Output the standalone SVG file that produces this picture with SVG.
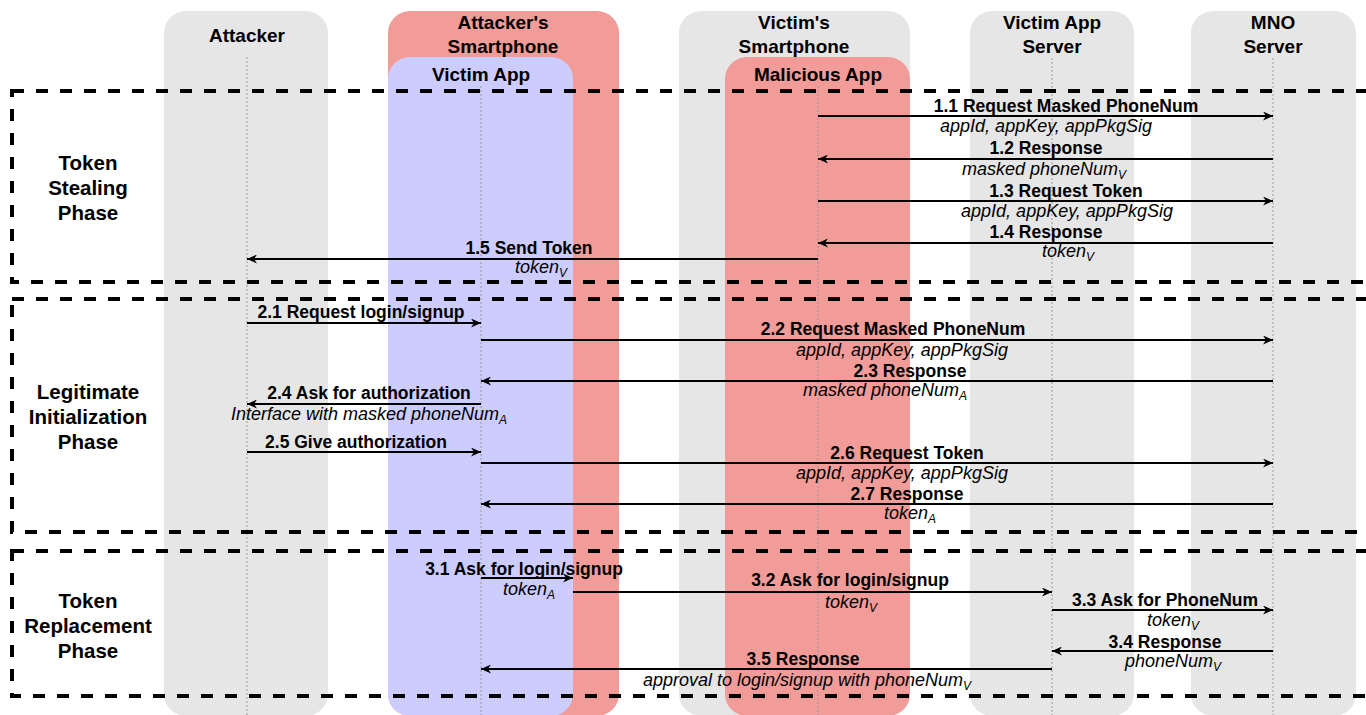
<svg xmlns="http://www.w3.org/2000/svg" width="1366" height="715" viewBox="0 0 1366 715">
<defs>
<marker id="ah" markerUnits="userSpaceOnUse" markerWidth="11" markerHeight="9" refX="10" refY="4.5" orient="auto" viewBox="0 0 11 9"><path d="M0,0 L10,4.5 L0,9 L3,4.5 Z" fill="#000"/></marker>
<style>
.lane{fill:#e6e6e6}
.red{fill:#f19c99}
.blue{fill:#ccccff}
text{font-family:"Liberation Sans",Arial,Helvetica,sans-serif;fill:#000;text-anchor:middle}
.hd{font-weight:bold;font-size:19px}
.ph{font-weight:bold;font-size:20.5px}
.lb{font-weight:bold;font-size:17.5px}
.it{font-style:italic;font-size:18px}
.sub{font-size:12px}
.life{stroke:#999;stroke-width:1;stroke-dasharray:2 2;fill:none}
.msg{stroke:#000;stroke-width:2;fill:none;marker-end:url(#ah)}
.phase{fill:none;stroke:#000;stroke-width:4;stroke-dasharray:12 12}
</style>
</defs>
<rect width="1366" height="715" fill="#fff"/>

<g id="attacker">
<rect class="lane" x="164" y="11" width="164" height="705" rx="22"/>
<text class="hd" x="247" y="42">Attacker</text>
<line class="life" x1="247" y1="57" x2="247" y2="715"/>
</g>

<g id="attackers-smartphone">
<rect class="red" x="388" y="11" width="231" height="705" rx="22"/>
<text class="hd" x="503" y="29">Attacker's</text>
<text class="hd" x="503" y="53">Smartphone</text>
</g>

<g id="victim-app">
<rect class="blue" x="388" y="57" width="185" height="659" rx="22"/>
<text class="hd" x="481" y="81">Victim App</text>
<line class="life" x1="481" y1="86" x2="481" y2="715"/>
</g>

<g id="victims-smartphone">
<rect class="lane" x="679" y="11" width="231" height="705" rx="22"/>
<text class="hd" x="794" y="29">Victim's</text>
<text class="hd" x="794" y="53">Smartphone</text>
</g>

<g id="malicious-app">
<rect class="red" x="725" y="57" width="185" height="659" rx="22"/>
<text class="hd" x="818" y="81">Malicious App</text>
<line class="life" x1="818" y1="86" x2="818" y2="715"/>
</g>

<g id="victim-app-server">
<rect class="lane" x="970" y="11" width="164" height="705" rx="22"/>
<text class="hd" x="1052" y="29">Victim App</text>
<text class="hd" x="1052" y="53">Server</text>
<line class="life" x1="1052" y1="58" x2="1052" y2="715"/>
</g>

<g id="mno-server">
<rect class="lane" x="1191" y="11" width="165" height="705" rx="22"/>
<text class="hd" x="1273" y="29">MNO</text>
<text class="hd" x="1273" y="53">Server</text>
<line class="life" x1="1273" y1="58" x2="1273" y2="715"/>
</g>

<g id="phase-token-stealing">
<rect class="phase" x="12" y="91" width="1372" height="191"/>
<text class="ph" x="88" y="170">Token</text>
<text class="ph" x="88" y="195">Stealing</text>
<text class="ph" x="88" y="220">Phase</text>
</g>

<g id="phase-legitimate-init">
<rect class="phase" x="12" y="299" width="1372" height="233"/>
<text class="ph" x="88" y="399">Legitimate</text>
<text class="ph" x="88" y="424">Initialization</text>
<text class="ph" x="88" y="449">Phase</text>
</g>

<g id="phase-token-replacement">
<rect class="phase" x="12" y="551" width="1372" height="145"/>
<text class="ph" x="88" y="608">Token</text>
<text class="ph" x="88" y="633">Replacement</text>
<text class="ph" x="88" y="658">Phase</text>
</g>

<g id="connectors">
<line class="msg" x1="818" y1="116" x2="1273" y2="116"/>
<text class="lb" x="1066" y="112">1.1 Request Masked PhoneNum</text>
<text class="it" x="1046" y="132">appId, appKey, appPkgSig</text>

<line class="msg" x1="1273" y1="159" x2="818" y2="159"/>
<text class="lb" x="1046" y="154">1.2 Response</text>
<text class="it" x="1044" y="175">masked phoneNum<tspan class="sub" dy="4">V</tspan></text>

<line class="msg" x1="818" y1="201" x2="1273" y2="201"/>
<text class="lb" x="1066" y="197">1.3 Request Token</text>
<text class="it" x="1067" y="217">appId, appKey, appPkgSig</text>

<line class="msg" x1="1273" y1="243" x2="818" y2="243"/>
<text class="lb" x="1046" y="238">1.4 Response</text>
<text class="it" x="1068" y="257">token<tspan class="sub" dy="4">V</tspan></text>

<line class="msg" x1="818" y1="259" x2="247" y2="259"/>
<text class="lb" x="529" y="254">1.5 Send Token</text>
<text class="it" x="541" y="273">token<tspan class="sub" dy="4">V</tspan></text>

<line class="msg" x1="247" y1="323" x2="481" y2="323"/>
<text class="lb" x="361" y="318">2.1 Request login/signup</text>

<line class="msg" x1="481" y1="340" x2="1273" y2="340"/>
<text class="lb" x="893" y="335">2.2 Request Masked PhoneNum</text>
<text class="it" x="902" y="356">appId, appKey, appPkgSig</text>

<line class="msg" x1="1273" y1="381" x2="481" y2="381"/>
<text class="lb" x="910" y="377">2.3 Response</text>
<text class="it" x="885" y="396">masked phoneNum<tspan class="sub" dy="4">A</tspan></text>

<line class="msg" x1="481" y1="404" x2="247" y2="404"/>
<text class="lb" x="369" y="399">2.4 Ask for authorization</text>
<text class="it" x="369" y="420">Interface with masked phoneNum<tspan class="sub" dy="4">A</tspan></text>

<line class="msg" x1="247" y1="452" x2="481" y2="452"/>
<text class="lb" x="356" y="448">2.5 Give authorization</text>

<line class="msg" x1="481" y1="463" x2="1273" y2="463"/>
<text class="lb" x="907" y="459">2.6 Request Token</text>
<text class="it" x="902" y="479">appId, appKey, appPkgSig</text>

<line class="msg" x1="1273" y1="504" x2="481" y2="504"/>
<text class="lb" x="907" y="500">2.7 Response</text>
<text class="it" x="910" y="519">token<tspan class="sub" dy="4">A</tspan></text>

<line class="msg" x1="481" y1="578" x2="573" y2="578"/>
<text class="lb" x="524" y="575">3.1 Ask for login/signup</text>
<text class="it" x="529" y="595">token<tspan class="sub" dy="4">A</tspan></text>

<line class="msg" x1="573" y1="592" x2="1052" y2="592"/>
<text class="lb" x="850" y="586">3.2 Ask for login/signup</text>
<text class="it" x="851" y="608">token<tspan class="sub" dy="4">V</tspan></text>

<line class="msg" x1="1052" y1="610" x2="1273" y2="610"/>
<text class="lb" x="1165" y="606">3.3 Ask for PhoneNum</text>
<text class="it" x="1173" y="626">token<tspan class="sub" dy="4">V</tspan></text>

<line class="msg" x1="1273" y1="651" x2="1052" y2="651"/>
<text class="lb" x="1165" y="648">3.4 Response</text>
<text class="it" x="1173" y="667">phoneNum<tspan class="sub" dy="4">V</tspan></text>

<line class="msg" x1="1052" y1="669" x2="481" y2="669"/>
<text class="lb" x="803" y="665">3.5 Response</text>
<text class="it" x="807" y="686">approval to login/signup with phoneNum<tspan class="sub" dy="4">V</tspan></text>
</g>
</svg>
